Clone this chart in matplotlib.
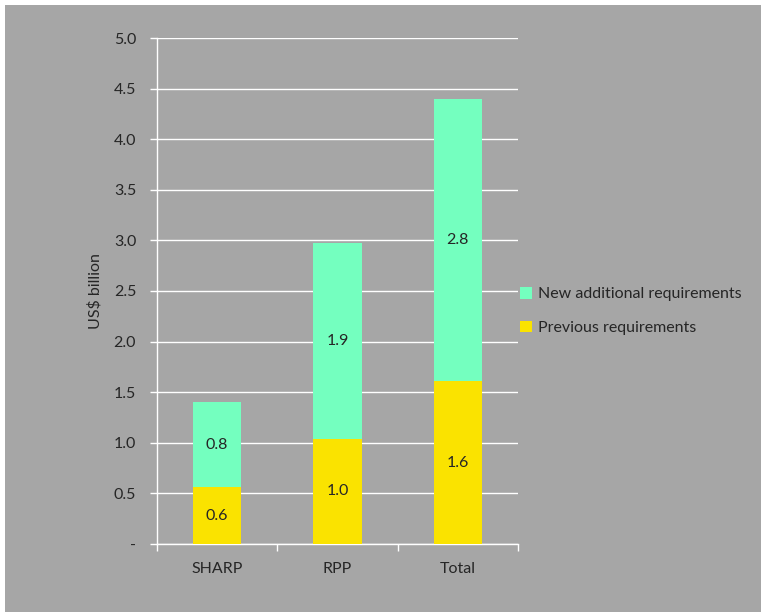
import numpy as np
import matplotlib.pyplot as plt
from matplotlib.patches import Rectangle

plt.rcParams['font.family'] = ['Lato', 'DejaVu Sans']

categorias = ["SHARP", "RPP", "Total"]
previas = [0.56, 1.04, 1.61]
nuevas = [0.84, 1.93, 2.79]
series = ["Previous requirements", "New additional requirements"]
yticks = [0, 0.5, 1.0, 1.5, 2.0, 2.5, 3.0, 3.5, 4.0, 4.5, 5.0]

gris = "#a6a6a6"
amarillo = "#fae300"
verde = "#74ffbf"
texto = "#262626"
fs = 11.5

fig = plt.figure(figsize=(7.61, 6.12), dpi=100)
fig.patch.set_facecolor("white")
# fondo gris con borde blanco arriba y a la izquierda
fig.patches.append(Rectangle((5 / 761, 0), 1, 1 - 5 / 612, transform=fig.transFigure,
                             facecolor=gris, edgecolor="none", zorder=-1))

ax = fig.add_axes([157 / 761, (612 - 544) / 612, 361 / 761, 506 / 612])
ax.set_facecolor("none")

x = np.arange(len(categorias))
b1 = ax.bar(x, previas, width=0.4, color=amarillo, zorder=3, label=series[0])
b2 = ax.bar(x, nuevas, width=0.4, bottom=previas, color=verde, zorder=3, label=series[1])

for barras in (b1, b2):
    for r in barras:
        ax.text(r.get_x() + r.get_width() / 2, r.get_y() + r.get_height() / 2,
                f"{r.get_height():.1f}", ha="center", va="center",
                fontsize=fs, color=texto, zorder=4)

ax.set_xlim(-0.5, 2.5)
ax.set_ylim(0, 5.0)
ax.set_yticks(yticks)
ax.set_yticklabels(["-"] + [f"{v:.1f}" for v in yticks[1:]])
ax.grid(axis="y", color="white", linewidth=1, zorder=0)

ax.set_xticks(x)
ax.set_xticklabels(categorias)
ax.set_xticks([-0.5, 0.5, 1.5, 2.5], minor=True)
ax.tick_params(axis="x", which="major", length=0, pad=13, labelsize=fs, labelcolor=texto)
ax.tick_params(axis="x", which="minor", length=5, color="white", width=1)
ax.tick_params(axis="y", length=5, color="white", width=1, pad=10, labelsize=fs, labelcolor=texto)

for lado in ("top", "right"):
    ax.spines[lado].set_visible(False)
for lado in ("left", "bottom"):
    ax.spines[lado].set_color("white")
    ax.spines[lado].set_linewidth(1)

ax.set_ylabel("US$ billion", fontsize=fs, color=texto, labelpad=8)

handles = [b2, b1]
leg = fig.legend(handles, [series[1], series[0]], loc="center left",
                 bbox_to_anchor=(520 / 761, 1 - 311 / 612), frameon=False,
                 borderpad=0, borderaxespad=0,
                 fontsize=fs, handlelength=0.75, handleheight=0.75,
                 handletextpad=0.35, labelspacing=1.2, labelcolor=texto)

fig.savefig("out.png", dpi=100)
